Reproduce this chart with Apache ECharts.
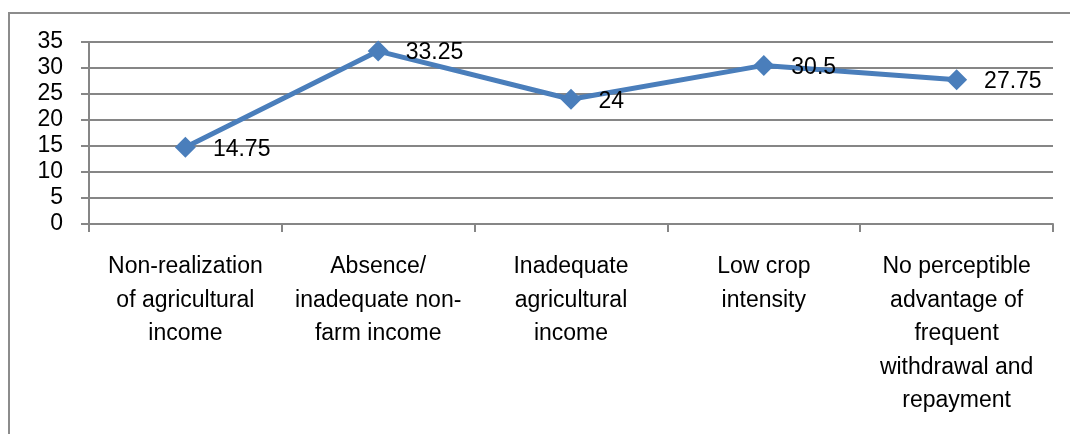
<!DOCTYPE html>
<html>
<head>
<meta charset="utf-8">
<script src="https://cdn.jsdelivr.net/npm/echarts@6/dist/echarts.min.js"></script>
<style>
  html, body { margin: 0; padding: 0; background: #fff; }
  .frame {
    position: absolute;
    left: 8px;
    top: 12px;
    width: 1100px;
    height: 500px;
    border-left: 2px solid #8c8c8c;
    border-top: 2px solid #8c8c8c;
  }
  #chart { position: absolute; left: 0; top: 0; width: 1070px; height: 434px; }
</style>
</head>
<body>
<div class="frame"></div>
<div id="chart"></div>
<script>
const categories = [
  'Non-realization\nof agricultural\nincome',
  'Absence/\ninadequate non-\nfarm income',
  'Inadequate\nagricultural\nincome',
  'Low crop\nintensity',
  'No perceptible\nadvantage of\nfrequent\nwithdrawal and\nrepayment'
];
const values = [14.75, 33.25, 24, 30.5, 27.75];
const yTicks = [0, 5, 10, 15, 20, 25, 30, 35];

const font = '"Liberation Sans", Arial, sans-serif';
const chart = echarts.init(document.getElementById('chart'));

chart.setOption({
  animation: false,
  grid: { left: 89, right: 17, top: 42, bottom: 210, containLabel: false },
  xAxis: {
    type: 'category',
    data: categories,
    boundaryGap: true,
    axisLine: { lineStyle: { color: '#868686', width: 2 } },
    axisTick: { show: true, length: 8, alignWithLabel: false, lineStyle: { color: '#868686', width: 2 } },
    axisLabel: {
      interval: 0,
      margin: 26,
      color: '#000',
      fontFamily: font,
      fontSize: 23,
      lineHeight: 33.5,
      align: 'center'
    }
  },
  yAxis: {
    type: 'value',
    min: yTicks[0],
    max: yTicks[yTicks.length - 1],
    interval: 5,
    axisLine: { show: true, lineStyle: { color: '#868686', width: 2 } },
    axisTick: { show: true, length: 8, lineStyle: { color: '#868686', width: 2 } },
    splitLine: { lineStyle: { color: '#868686', width: 2 } },
    axisLabel: {
      margin: 26,
      color: '#000',
      fontFamily: font,
      fontSize: 23
    }
  },
  series: [{
    type: 'line',
    data: values,
    symbol: 'diamond',
    symbolSize: 21,
    lineStyle: { color: '#4a7ebb', width: 5 },
    itemStyle: { color: '#4a7ebb' },
    label: {
      show: true,
      position: 'right',
      distance: 17,
      offset: [0, 2],
      color: '#000',
      fontFamily: font,
      fontSize: 23
    }
  }]
});
</script>
</body>
</html>
